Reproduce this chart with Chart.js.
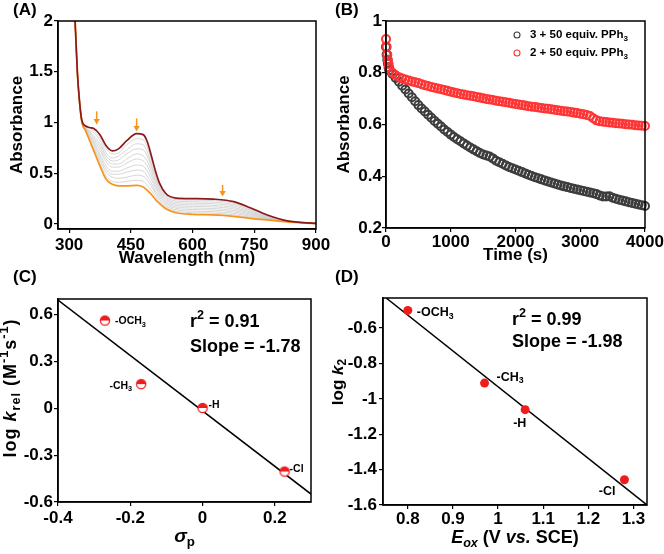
<!DOCTYPE html>
<html>
<head>
<meta charset="utf-8">
<script src="https://cdn.jsdelivr.net/npm/chart.js@4.4.1/dist/chart.umd.min.js"></script>
<style>
  html, body { margin: 0; padding: 0; background: #fff; }
  #wrap { position: relative; width: 664px; height: 554px; }
  .panel { position: absolute; width: 332px; height: 277px; }
  .tag { position: absolute; font: bold 17px "Liberation Sans", Arial, sans-serif; line-height: 17px; }
</style>
</head>
<body>
<div id="wrap">
  <div class="panel" style="left:0;top:0"><canvas id="chartA" width="332" height="277"></canvas></div>
  <div class="panel" style="left:332px;top:0"><canvas id="chartB" width="332" height="277"></canvas></div>
  <div class="panel" style="left:0;top:277px"><canvas id="chartC" width="332" height="277"></canvas></div>
  <div class="panel" style="left:332px;top:277px"><canvas id="chartD" width="332" height="277"></canvas></div>
  <div class="tag" style="left:13px;top:1px">(A)</div>
  <div class="tag" style="left:335px;top:1px">(B)</div>
  <div class="tag" style="left:13px;top:268px">(C)</div>
  <div class="tag" style="left:335px;top:268px">(D)</div>
</div>
<script>
// ---- (A) UV-vis spectra ----
const wlA = [313, 320, 325, 331, 340, 350, 360, 375, 390, 405, 420, 440, 464, 480, 490, 500, 510, 520, 535, 560, 600, 650, 700, 740, 780, 830, 900];
const absStart = [2.15, 1.5, 1.22, 1.02, 0.965, 0.95, 0.94, 0.88, 0.77, 0.72, 0.74, 0.82, 0.89, 0.88, 0.81, 0.67, 0.52, 0.40, 0.30, 0.255, 0.25, 0.245, 0.22, 0.16, 0.09, 0.03, 0.005];
const absEnd = [2.15, 1.5, 1.22, 1.0, 0.92, 0.82, 0.72, 0.57, 0.44, 0.39, 0.375, 0.375, 0.38, 0.365, 0.33, 0.29, 0.24, 0.20, 0.15, 0.11, 0.095, 0.09, 0.075, 0.055, 0.04, 0.02, 0.003];
const absMid = [
  [2.15, 1.5, 1.22, 1.02, 0.96, 0.94, 0.92, 0.85, 0.74, 0.69, 0.70, 0.78, 0.84, 0.83, 0.76, 0.63, 0.49, 0.38, 0.285, 0.24, 0.235, 0.23, 0.205, 0.15, 0.085, 0.029, 0.005],
  [2.15, 1.5, 1.22, 1.02, 0.95, 0.92, 0.90, 0.82, 0.70, 0.65, 0.67, 0.73, 0.79, 0.78, 0.71, 0.59, 0.46, 0.36, 0.27, 0.226, 0.219, 0.214, 0.191, 0.139, 0.08, 0.028, 0.005],
  [2.15, 1.5, 1.22, 1.01, 0.95, 0.91, 0.87, 0.79, 0.67, 0.62, 0.63, 0.69, 0.74, 0.73, 0.67, 0.56, 0.44, 0.34, 0.255, 0.212, 0.204, 0.199, 0.177, 0.129, 0.075, 0.027, 0.005],
  [2.15, 1.5, 1.22, 1.01, 0.94, 0.90, 0.85, 0.76, 0.64, 0.59, 0.59, 0.64, 0.69, 0.67, 0.62, 0.52, 0.41, 0.32, 0.24, 0.197, 0.188, 0.183, 0.162, 0.118, 0.07, 0.026, 0.004],
  [2.15, 1.5, 1.22, 1.01, 0.94, 0.89, 0.83, 0.73, 0.61, 0.56, 0.56, 0.60, 0.64, 0.62, 0.57, 0.48, 0.38, 0.30, 0.225, 0.183, 0.173, 0.168, 0.148, 0.108, 0.065, 0.025, 0.004],
  [2.15, 1.5, 1.22, 1.01, 0.94, 0.87, 0.81, 0.69, 0.57, 0.52, 0.52, 0.55, 0.58, 0.57, 0.52, 0.44, 0.35, 0.28, 0.21, 0.168, 0.157, 0.152, 0.133, 0.097, 0.06, 0.024, 0.004],
  [2.15, 1.5, 1.22, 1.01, 0.93, 0.86, 0.79, 0.66, 0.54, 0.49, 0.49, 0.51, 0.53, 0.52, 0.47, 0.40, 0.32, 0.26, 0.195, 0.154, 0.142, 0.137, 0.119, 0.087, 0.055, 0.023, 0.004],
  [2.15, 1.5, 1.22, 1.0, 0.93, 0.85, 0.76, 0.63, 0.51, 0.46, 0.45, 0.46, 0.48, 0.47, 0.43, 0.37, 0.30, 0.24, 0.18, 0.139, 0.126, 0.121, 0.104, 0.076, 0.05, 0.022, 0.003],
  [2.15, 1.5, 1.22, 1.0, 0.92, 0.83, 0.74, 0.60, 0.47, 0.42, 0.41, 0.42, 0.43, 0.42, 0.38, 0.33, 0.27, 0.22, 0.165, 0.125, 0.111, 0.106, 0.09, 0.066, 0.045, 0.021, 0.003]
];
const arrowWl = [367, 464, 673];
const arrowFrom = [1.11, 1.04, 0.385];
const arrowTo = [0.98, 0.91, 0.27];
const xTicksA = [300, 450, 600, 750, 900];
const yTicksA = [0, 0.5, 1, 1.5, 2];

// ---- (B) kinetics ----
const timeB = [0, 10, 20, 30, 40, 50, 100, 150, 200, 250, 300, 350, 400, 450, 500, 550, 600, 650, 700, 750, 800, 850, 900, 950,
  1000, 1050, 1100, 1150, 1200, 1250, 1300, 1350, 1400, 1450, 1500, 1550, 1600, 1650, 1700, 1750, 1800, 1850, 1900, 1950,
  2000, 2050, 2100, 2150, 2200, 2250, 2300, 2350, 2400, 2450, 2500, 2550, 2600, 2650, 2700, 2750, 2800, 2850, 2900, 2950,
  3000, 3050, 3100, 3150, 3200, 3250, 3300, 3350, 3400, 3450, 3500, 3550, 3600, 3650, 3700, 3750, 3800, 3850, 3900, 3950, 4000];
const absCmpd3 = [0.90, 0.87, 0.85, 0.835, 0.82, 0.81, 0.795, 0.78, 0.765, 0.75, 0.735, 0.72, 0.705, 0.69, 0.675, 0.662, 0.65, 0.638, 0.626, 0.614, 0.603, 0.592, 0.581, 0.571,
  0.561, 0.552, 0.543, 0.535, 0.527, 0.519, 0.511, 0.504, 0.497, 0.49, 0.484, 0.48, 0.476, 0.469, 0.46, 0.454, 0.448, 0.442, 0.436, 0.431,
  0.426, 0.421, 0.416, 0.411, 0.406, 0.401, 0.396, 0.392, 0.388, 0.384, 0.38, 0.376, 0.372, 0.368, 0.364, 0.361, 0.358, 0.355, 0.352, 0.349,
  0.346, 0.343, 0.34, 0.337, 0.334, 0.331, 0.326, 0.322, 0.322, 0.323, 0.317, 0.313, 0.309, 0.306, 0.303, 0.3, 0.297, 0.294, 0.291, 0.288, 0.285];
const absCmpd2 = [0.93, 0.90, 0.87, 0.85, 0.835, 0.82, 0.80, 0.79, 0.783, 0.778, 0.774, 0.77, 0.766, 0.763, 0.76, 0.756, 0.752, 0.749, 0.745, 0.742, 0.739, 0.736, 0.733, 0.73,
  0.727, 0.724, 0.721, 0.718, 0.716, 0.713, 0.711, 0.709, 0.706, 0.704, 0.701, 0.699, 0.697, 0.695, 0.692, 0.69, 0.688, 0.686, 0.684, 0.681,
  0.679, 0.677, 0.675, 0.673, 0.671, 0.669, 0.668, 0.666, 0.664, 0.662, 0.661, 0.659, 0.657, 0.655, 0.653, 0.651, 0.65, 0.648, 0.646, 0.644,
  0.642, 0.64, 0.637, 0.633, 0.624, 0.616, 0.613, 0.611, 0.61, 0.608, 0.607, 0.605, 0.604, 0.603, 0.601, 0.6, 0.599, 0.597, 0.596, 0.595, 0.594];
const legendB = ['3 + 50 equiv. PPh3', '2 + 50 equiv. PPh3'];
const xTicksB = [0, 1000, 2000, 3000, 4000];
const yTicksB = [0.2, 0.4, 0.6, 0.8, 1];

// ---- (C) Hammett plot ----
const substituents = ['-OCH3', '-CH3', '-H', '-Cl'];
const sigmaP = [-0.27, -0.17, 0, 0.227];
const logKrel = [0.562, 0.155, 0.002, -0.405];
const fitCx = [-0.4, 0.3];
const fitCy = [0.693, -0.549];
const r2C = '0.91', slopeC = '-1.78';
const xTicksC = [-0.4, -0.2, 0, 0.2];
const yTicksC = [-0.6, -0.3, 0, 0.3, 0.6];

// ---- (D) log k2 vs Eox ----
const eox = [0.80, 0.97, 1.06, 1.28];
const logK2 = [-0.50, -0.911, -1.061, -1.457];
const fitDx = [0.752, 1.33];
const fitDy = [-0.43, -1.6];
const r2D = '0.99', slopeD = '-1.98';
const xTicksD = [0.8, 0.9, 1, 1.1, 1.2, 1.3];
const yTicksD = [-1.6, -1.4, -1.2, -1, -0.8, -0.6];

const W = 332, H = 277;
const FONT = '"Liberation Sans", Arial, sans-serif';
const RED = '#f01c1c';

function xy(xs, ys) { return xs.map((x, i) => ({ x: x, y: ys[i] })); }

// text with italic / sub / sup runs
function drawRich(ctx, runs, x, y, size, align, spacing) {
  spacing = spacing || 0;
  let w = 0;
  const parts = runs.map(r => {
    const t = r[0], st = r[1] || '';
    const small = st.indexOf('sub') >= 0 || st.indexOf('sup') >= 0;
    const fs = small ? size * 0.7 : size;
    const font = (st.charAt(0) === 'i' ? 'italic ' : '') + 'bold ' + fs + 'px ' + FONT;
    ctx.font = font;
    const pw = ctx.measureText(t).width + spacing * t.length;
    const dy = st.indexOf('sub') >= 0 ? size * 0.3 : (st.indexOf('sup') >= 0 ? -size * 0.35 : 0);
    w += pw;
    return { t: t, font: font, pw: pw, dy: dy };
  });
  let cx = align === 'center' ? x - w / 2 : (align === 'right' ? x - w : x);
  ctx.textBaseline = 'middle';
  ctx.textAlign = 'left';
  if (spacing) ctx.letterSpacing = spacing + 'px';
  parts.forEach(p => { ctx.font = p.font; ctx.fillText(p.t, cx, y + p.dy); cx += p.pw; });
  if (spacing) ctx.letterSpacing = '0px';
  return w;
}
function subRuns(s) {
  const m = s.match(/^(.*?)(\d+)$/);
  return m ? [[m[1]], [m[2], 'sub']] : [[s]];
}

const frame = {
  id: 'frame',
  afterDraw(c) {
    const a = c.chartArea, ctx = c.ctx;
    ctx.save();
    ctx.strokeStyle = '#000';
    ctx.lineWidth = 1.5;
    ctx.strokeRect(a.left, a.top, a.right - a.left, a.bottom - a.top);
    ctx.restore();
  }
};

function panelOptions(p) {
  const tickFont = { family: FONT, size: 17, weight: 'bold' };
  const titleFont = { family: FONT, size: 17, weight: 'bold' };
  const grid = { drawOnChartArea: false, drawTicks: true, tickLength: 4, color: '#000', lineWidth: 1.2 };
  return {
    responsive: false, animation: false, events: [],
    layout: { padding: { left: 0, top: p.top, right: W - p.right, bottom: 0 } },
    plugins: { legend: { display: false }, tooltip: { enabled: false } },
    scales: {
      x: {
        type: 'linear', position: 'bottom', min: p.xMin, max: p.xMax,
        afterBuildTicks: s => { s.ticks = p.xTicks.map(v => ({ value: v })); },
        afterFit: s => { s.height = H - p.bottom; s.paddingLeft = 0; s.paddingRight = 0; },
        border: { display: true, color: '#000', width: 1.5 },
        grid: grid,
        ticks: { autoSkip: false, maxRotation: 0, padding: p.xPad, color: '#000', font: tickFont, callback: v => String(v) },
        title: { display: !!p.xTitle, text: p.xTitle || '', color: '#000', font: titleFont, padding: { top: 0, bottom: p.xTitlePad || 0 } }
      },
      y: {
        type: 'linear', position: 'left', min: p.yMin, max: p.yMax,
        afterBuildTicks: s => { s.ticks = p.yTicks.map(v => ({ value: v })); },
        afterFit: s => { s.width = p.left; s.paddingTop = 0; s.paddingBottom = 0; },
        border: { display: true, color: '#000', width: 1.5 },
        grid: grid,
        ticks: { autoSkip: false, padding: p.yPad, color: '#000', font: tickFont, callback: v => String(v) },
        title: { display: !!p.yTitle, text: p.yTitle || '', color: '#000', font: titleFont, padding: { top: p.yTitlePad || 0, bottom: 0 } }
      }
    }
  };
}

// ---------- (A) ----------
const arrowsA = {
  id: 'arrowsA',
  afterDatasetsDraw(c) {
    const ctx = c.ctx, xs = c.scales.x, ys = c.scales.y;
    ctx.save();
    ctx.strokeStyle = ctx.fillStyle = '#f7941d';
    ctx.lineWidth = 1.5;
    arrowWl.forEach((w, i) => {
      const x = xs.getPixelForValue(w), y0 = ys.getPixelForValue(arrowFrom[i]), y1 = ys.getPixelForValue(arrowTo[i]);
      ctx.beginPath(); ctx.moveTo(x, y0); ctx.lineTo(x, y1 - 4); ctx.stroke();
      ctx.beginPath(); ctx.moveTo(x - 3.2, y1 - 5.5); ctx.lineTo(x + 3.2, y1 - 5.5); ctx.lineTo(x, y1); ctx.closePath(); ctx.fill();
    });
    ctx.restore();
  }
};
const lineA = { showLine: true, pointRadius: 0, cubicInterpolationMode: 'monotone', fill: false };
new Chart(document.getElementById('chartA'), {
  type: 'scatter',
  data: {
    datasets: [
      Object.assign({ data: xy(wlA, absStart), borderColor: '#8b1a1a', borderWidth: 1.7, order: 0 }, lineA),
      Object.assign({ data: xy(wlA, absEnd), borderColor: '#f7941d', borderWidth: 1.7, order: 1 }, lineA)
    ].concat(absMid.map(a => Object.assign({ data: xy(wlA, a), borderColor: '#cbcbcb', borderWidth: 0.8, order: 2 }, lineA)))
  },
  options: panelOptions({ left: 58, right: 316, top: 21, bottom: 229, xMin: 273, xMax: 900, yMin: -0.05, yMax: 2,
    xTicks: xTicksA, yTicks: yTicksA, xPad: 2, yPad: 1, xTitle: 'Wavelength (nm)', xTitlePad: 8, yTitle: 'Absorbance', yTitlePad: 7 }),
  plugins: [arrowsA, frame]
});

// ---------- (B) ----------
const legendPluginB = {
  id: 'legendB',
  afterDraw(c) {
    const ctx = c.ctx;
    ctx.save();
    legendB.forEach((txt, i) => {
      const y = 35 + i * 18;
      ctx.strokeStyle = c.data.datasets[i].borderColor;
      ctx.lineWidth = 1.1;
      ctx.beginPath(); ctx.arc(185, y, 3, 0, 2 * Math.PI); ctx.stroke();
      ctx.fillStyle = '#000';
      drawRich(ctx, subRuns(txt), 198, y, 11.5, 'left');
    });
    ctx.restore();
  }
};
new Chart(document.getElementById('chartB'), {
  type: 'scatter',
  data: {
    datasets: [
      { data: xy(timeB, absCmpd3), borderColor: '#3d3d3d', backgroundColor: 'rgba(0,0,0,0)', pointRadius: 4, borderWidth: 2, clip: false, order: 1 },
      { data: xy(timeB, absCmpd2), borderColor: '#ff3535', backgroundColor: 'rgba(0,0,0,0)', pointRadius: 4, borderWidth: 2, clip: false, order: 0 }
    ]
  },
  options: panelOptions({ left: 54, right: 313, top: 21, bottom: 228, xMin: 0, xMax: 4000, yMin: 0.2, yMax: 1,
    xTicks: xTicksB, yTicks: yTicksB, xPad: 0, yPad: 0, xTitle: 'Time (s)', xTitlePad: 11, yTitle: 'Absorbance', yTitlePad: 2 }),
  plugins: [frame, legendPluginB]
});

// ---------- (C) ----------
function halfDot(r, color) {
  const c = document.createElement('canvas');
  const s = Math.ceil(2 * r + 4);
  c.width = c.height = s;
  const g = c.getContext('2d'), m = s / 2;
  g.fillStyle = '#fff'; g.beginPath(); g.arc(m, m, r, 0, 2 * Math.PI); g.fill();
  g.fillStyle = color; g.beginPath(); g.arc(m, m, r, Math.PI, 2 * Math.PI); g.closePath(); g.fill();
  g.strokeStyle = color; g.lineWidth = 1.3; g.beginPath(); g.arc(m, m, r, 0, 2 * Math.PI); g.stroke();
  return c;
}
function annotPlugin(id, xv, yv, offs, labSize, stats, titles) {
  return {
    id: id,
    afterDraw(c) {
      const ctx = c.ctx, xs = c.scales.x, ys = c.scales.y;
      ctx.save();
      ctx.fillStyle = '#000';
      substituents.forEach((s, i) => {
        const o = offs[i];
        drawRich(ctx, subRuns(s), xs.getPixelForValue(xv[i]) + o[0], ys.getPixelForValue(yv[i]) + o[1], labSize, o[2]);
      });
      drawRich(ctx, [['r'], ['2', 'sup'], [' = ' + stats.r2]], stats.x, stats.y, 18, 'left');
      drawRich(ctx, [['Slope = ' + stats.slope]], stats.x, stats.y + stats.gap, 18, 'left');
      // axis titles
      drawRich(ctx, titles.x, (c.chartArea.left + c.chartArea.right) / 2, titles.xy, titles.xSize, 'center');
      ctx.translate(titles.yx, titles.yy);
      ctx.rotate(-Math.PI / 2);
      drawRich(ctx, titles.y, 0, 0, titles.ySize, 'center', titles.ySpace);
      ctx.restore();
    }
  };
}
new Chart(document.getElementById('chartC'), {
  type: 'scatter',
  data: {
    datasets: [
      { data: xy(sigmaP, logKrel), pointStyle: halfDot(4.6, RED), pointRadius: 5, clip: false, order: 0 },
      { data: xy(fitCx, fitCy), showLine: true, pointRadius: 0, borderColor: '#000', borderWidth: 1.5, order: 1 }
    ]
  },
  options: panelOptions({ left: 58, right: 311, top: 22, bottom: 225, xMin: -0.4, xMax: 0.3, yMin: -0.6, yMax: 0.7,
    xTicks: xTicksC, yTicks: yTicksC, xPad: 2, yPad: 1 }),
  plugins: [frame, annotPlugin('annotC', sigmaP, logKrel,
    [[10, 1, 'left'], [-9, 2, 'right'], [6, -2.5, 'left'], [5, -2, 'left']], 10.5,
    { r2: r2C, slope: slopeC, x: 190, y: 45, gap: 25 },
    { x: [['\u03c3', 'i'], ['p', 'sub']], xy: 260, xSize: 19,
      y: [['log '], ['k', 'i'], ['rel', 'sub'], [' (M'], ['-1', 'sup'], ['s'], ['-1', 'sup'], [')']], yx: 11, yy: 111, ySize: 18, ySpace: 1 })]
});

// ---------- (D) ----------
new Chart(document.getElementById('chartD'), {
  type: 'scatter',
  data: {
    datasets: [
      { data: xy(eox, logK2), pointStyle: 'circle', pointRadius: 4.5, backgroundColor: RED, borderColor: RED, borderWidth: 0, clip: false, order: 0 },
      { data: xy(fitDx, fitDy), showLine: true, pointRadius: 0, borderColor: '#000', borderWidth: 1.5, order: 1 }
    ]
  },
  options: panelOptions({ left: 51, right: 315, top: 21, bottom: 228, xMin: 0.745, xMax: 1.33, yMin: -1.6, yMax: -0.43,
    xTicks: xTicksD, yTicks: yTicksD, xPad: 0, yPad: 2 }),
  plugins: [frame, annotPlugin('annotD', eox, logK2,
    [[9, 2, 'left'], [12, -6, 'left'], [-12, 14, 'left'], [-9, 12, 'right']], 12.5,
    { r2: r2D, slope: slopeD, x: 180, y: 43, gap: 22 },
    { x: [['E', 'i'], ['ox', 'isub'], [' (V '], ['vs.', 'i'], [' SCE)']], xy: 261, xSize: 18,
      y: [['log '], ['k', 'i'], ['2', 'sub']], yx: 6, yy: 105, ySize: 17, ySpace: 0 })]
});
</script>
</body>
</html>
